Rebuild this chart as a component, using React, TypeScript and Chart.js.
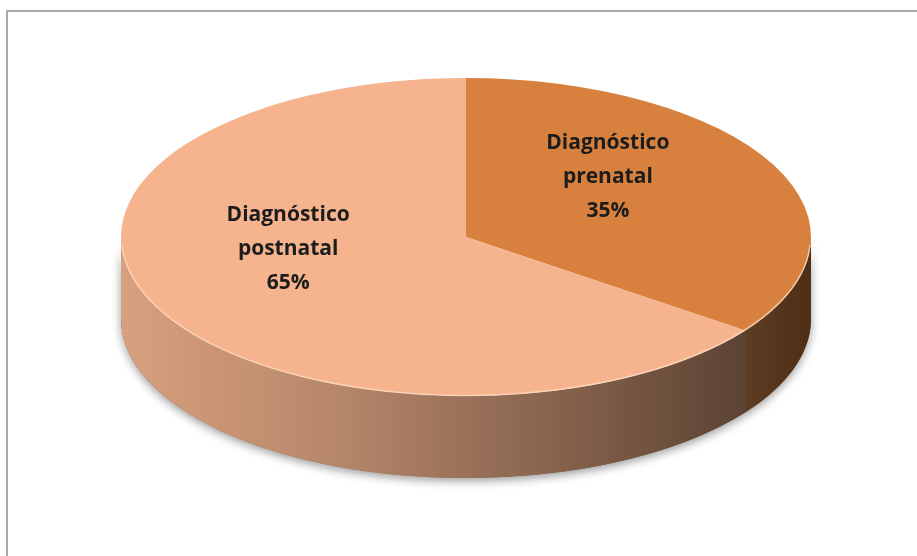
import React, { useEffect, useRef } from "react";
import { Chart, registerables } from "chart.js";

Chart.register(...registerables);

const CATEGORIES = ["Diagnóstico prenatal", "Diagnóstico postnatal"];
const VALUES = [35, 65];
const TOP_COLORS = ["#D8813E", "#F5B38E"];

// layout of the 3D ellipse (pixels)
const EX = 466;
const EY = 237;
const RX = 345;
const RY = 159;
const DEPTH = 82;

const pie3d = {
  id: "pie3d",
  beforeDatasetsDraw(chart: any) {
    const ctx = chart.ctx as CanvasRenderingContext2D;
    const meta = chart.getDatasetMeta(0);
    const arcs = meta.data as any[];
    ctx.save();
    ctx.save();
    ctx.shadowColor = "rgba(0,0,0,0.4)";
    ctx.shadowBlur = 10;
    ctx.shadowOffsetY = 3;
    ctx.beginPath();
    ctx.ellipse(EX, EY + DEPTH, RX, RY, 0, 0, Math.PI);
    ctx.lineTo(EX - RX, EY);
    ctx.ellipse(EX, EY, RX, RY, 0, Math.PI, 0, true);
    ctx.closePath();
    ctx.fillStyle = "#8a6650";
    ctx.fill();
    ctx.restore();
    arcs.forEach((arc: any, i: number) => {
      const a1 = Math.max(arc.startAngle, 0);
      const a2 = Math.min(arc.endAngle, Math.PI);
      if (a2 <= a1) return;
      ctx.beginPath();
      ctx.ellipse(EX, EY, RX, RY, 0, a1, a2);
      ctx.lineTo(EX + RX * Math.cos(a2), EY + RY * Math.sin(a2) + DEPTH);
      ctx.ellipse(EX, EY + DEPTH, RX, RY, 0, a2, a1, true);
      ctx.closePath();
      let g;
      if (i === 0) {
        g = ctx.createLinearGradient(EX + RX * Math.cos(a2), 0, EX + RX, 0);
        g.addColorStop(0, "#5C3C22");
        g.addColorStop(1, "#4E2E14");
      } else {
        g = ctx.createLinearGradient(EX - RX, 0, EX + RX * Math.cos(a1), 0);
        g.addColorStop(0, "#D8A07E");
        g.addColorStop(0.35, "#B6866A");
        g.addColorStop(0.7, "#86624D");
        g.addColorStop(1, "#5C4333");
      }
      ctx.fillStyle = g;
      ctx.fill();
    });
    ctx.restore();
    const R = arcs[0].outerRadius;
    const cx = arcs[0].x;
    const cy = arcs[0].y;
    ctx.save();
    ctx.translate(EX, EY);
    ctx.scale(RX / R, RY / R);
    ctx.translate(-cx, -cy);
  },
  afterDatasetsDraw(chart: any) {
    const ctx = chart.ctx as CanvasRenderingContext2D;
    ctx.restore();
    const meta = chart.getDatasetMeta(0);
    const arcs = meta.data as any[];
    ctx.save();
    ctx.beginPath();
    ctx.ellipse(EX, EY, RX - 0.5, RY - 0.5, 0, 0.05, Math.PI - 0.05);
    ctx.strokeStyle = "rgba(255,225,200,0.7)";
    ctx.lineWidth = 1.5;
    ctx.stroke();
    ctx.restore();
    const total = VALUES.reduce((a, b) => a + b, 0);
    ctx.save();
    ctx.font = "bold 21px 'Open Sans'";
    ctx.fillStyle = "#1c1c1c";
    ctx.textAlign = "center";
    ctx.textBaseline = "middle";
    arcs.forEach((arc: any, i: number) => {
      const mid = (arc.startAngle + arc.endAngle) / 2;
      const x = EX + RX * 0.52 * Math.cos(mid) - 18;
      const y = EY - 24 + RY * 0.5 * Math.sin(mid);
      const words = CATEGORIES[i].split(" ");
      const lines = [...words, Math.round((VALUES[i] / total) * 100) + "%"];
      const lh = 34;
      lines.forEach((t, k) => {
        ctx.fillText(t, x, y + (k - (lines.length - 1) / 2) * lh);
      });
    });
    ctx.restore();
  },
};

export default function App() {
  const ref = useRef<HTMLCanvasElement>(null);
  useEffect(() => {
    const chart = new Chart(ref.current!, {
      type: "pie",
      data: {
        labels: CATEGORIES,
        datasets: [
          {
            data: VALUES,
            backgroundColor: TOP_COLORS,
            borderWidth: 0,
            clip: false as any,
          },
        ],
      },
      options: {
        responsive: false,
        animation: false,
        plugins: { legend: { display: false }, tooltip: { enabled: false } },
      },
      plugins: [pie3d],
    });
    return () => chart.destroy();
  }, []);
  return (
    <div style={{ position: "fixed", left: 0, top: 0, width: 917, height: 556, background: "#fff", overflow: "hidden" }}>
      <canvas ref={ref} width={917} height={556} style={{ position: "absolute", left: 0, top: 0 }} />
      <div
        style={{
          position: "absolute",
          left: 6,
          top: 10,
          width: 940,
          height: 580,
          border: "2px solid #a8a8a8",
          boxSizing: "border-box",
          pointerEvents: "none",
        }}
      />
    </div>
  );
}
